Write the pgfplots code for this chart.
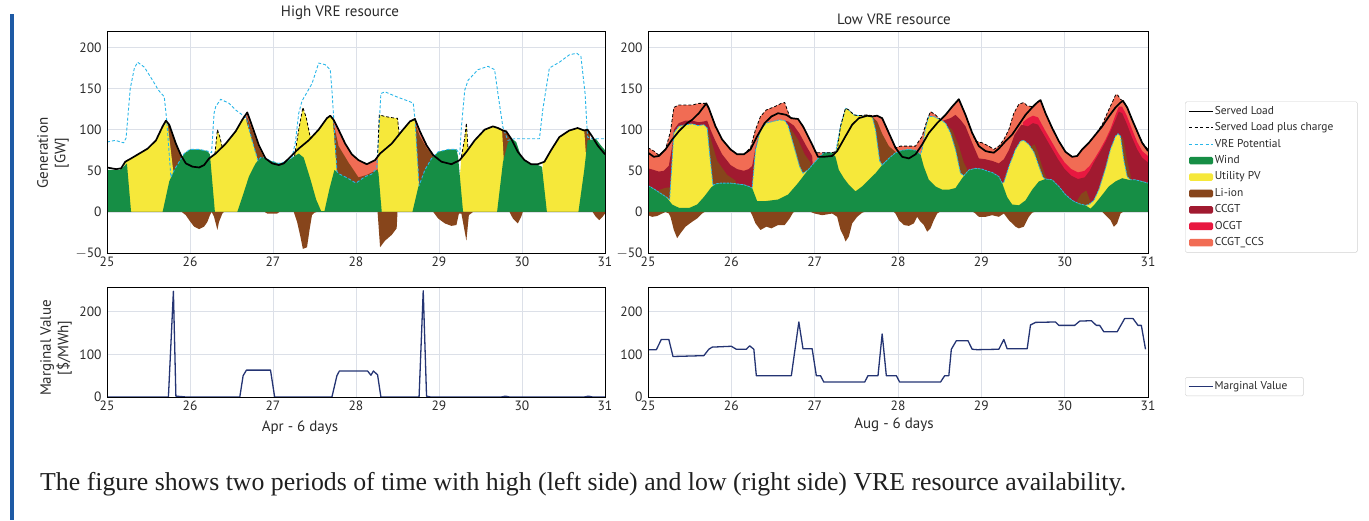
\documentclass[border=0pt]{standalone}
\usepackage{pgfplots}
\pgfplotsset{compat=1.18}
\usepackage{fontspec}
\setmainfont{PT Sans}
\newfontfamily\capfont{Liberation Serif}

\definecolor{wind}{HTML}{168E45}
\definecolor{pv}{HTML}{F6E83A}
\definecolor{liion}{HTML}{87451B}
\definecolor{ccgt}{HTML}{A11A30}
\definecolor{ocgt}{HTML}{E81840}
\definecolor{ccs}{HTML}{F16C54}
\definecolor{vre}{HTML}{29B6E8}
\definecolor{mv}{HTML}{243473}
\definecolor{gridc}{HTML}{DCE0E8}
\definecolor{tickc}{HTML}{2A2A2A}
\definecolor{barblue}{HTML}{1E5AA5}

\newcommand{\tickf}{\fontsize{13.5}{16}\selectfont}
\newcommand{\labf}{\fontsize{15}{17.5}\selectfont}
\newcommand{\legf}{\fontsize{11.4}{13}\selectfont}

\pgfplotsset{
  panel/.style={
    scale only axis, xmin=25, xmax=31, xtick={25,...,31},
    grid=major, grid style={draw=gridc, line width=0.6pt},
    axis line style={line width=0.8pt},
    tick style={draw=none},
    ticklabel style={font=\tickf, text=tickc},
    yticklabel style={xshift=-2pt},
    /pgf/number format/assume math mode=true,
    clip mode=individual,
    every axis plot/.append style={line join=round},
  },
  lineleg/.style={legend image code/.code={\draw[##1] (0pt,0pt) -- (24pt,0pt);}},
  arealeg/.style={legend image code/.code={\path[##1, draw=none] (0pt,-3.8pt) rectangle (24pt,3.8pt);}},
  loadline/.style={black, line width=1.7pt},
  chargeline/.style={black, line width=0.8pt, dash pattern=on 3pt off 2pt},
  vreline/.style={vre, line width=0.9pt, dash pattern=on 3pt off 2pt},
}

\begin{document}
\begin{tikzpicture}
\useasboundingbox (0,0) rectangle (1369pt,-520pt);
\fill[barblue] (10pt,-14pt) rectangle (13.5pt,-520pt);

% ---------------- High VRE resource, generation ----------------
\begin{axis}[panel, at={(107pt,-31pt)}, anchor=north west,
  width=498pt, height=222pt, ymin=-50, ymax=220,
  ytick={-50,0,50,100,150,200}, yticklabels={$-$50,0,50,100,150,200}]
% CCGT_CCS
\addplot[fill=ccs, draw=none, forget plot] coordinates {
(25,0) (26.66,0) (26.68,120) (26.69,121) (26.75,104) (26.83,81) (26.89,68) (26.92,0)
(27.67,0) (27.69,117) (27.73,112) (27.79,100) (27.87,83) (27.95,70) (28.03,63) (28.13,58) (28.23,63) (28.27,68) (28.29,0)
(28.69,0) (28.71,113) (28.77,98) (28.85,81) (28.93,69) (28.95,0) (31,0)} \closedcycle;
% Li-ion discharge
\addplot[fill=liion, draw=none, forget plot] coordinates {
(25,0) (25.69,0) (25.71,111) (25.75,106) (25.83,83) (25.89,69) (25.92,0)
(26.65,0) (26.68,117) (26.75,100) (26.83,78) (26.89,66) (26.92,0)
(27.67,0) (27.7,115) (27.73,108) (27.79,80) (27.91,60) (28.03,42) (28.13,45) (28.23,50) (28.27,52) (28.29,0)
(28.69,0) (28.71,108) (28.77,92) (28.85,78) (28.93,68) (28.96,0)
(29.74,0) (29.76,99) (29.81,98) (29.87,89) (29.89,0)
(30.73,0) (30.75,99) (30.79,100) (30.82,96) (30.85,0) (31,0)} \closedcycle;
% Utility PV (cumulative)
\addplot[fill=pv, draw=none, forget plot] coordinates {
(25,0) (25.18,0) (25.21,60) (25.29,65) (25.39,71) (25.49,77) (25.59,87) (25.67,104) (25.71,111) (25.73,108) (25.8,48) (25.83,0)
(26.21,0) (26.24,66) (26.3,70) (26.33,100) (26.36,91) (26.39,78) (26.43,83) (26.55,98) (26.63,112) (26.67,113) (26.75,86) (26.82,62) (26.85,0)
(27.22,0) (27.26,68) (27.31,100) (27.36,127) (27.4,115) (27.45,92) (27.5,94) (27.55,100) (27.65,114) (27.69,117) (27.72,112) (27.77,48) (27.79,0)
(28.25,0) (28.28,118) (28.35,116) (28.47,114) (28.5,114) (28.52,95) (28.55,98) (28.65,110) (28.71,113) (28.76,32) (28.78,0)
(29.22,0) (29.27,67) (29.31,90) (29.33,108) (29.35,76) (29.43,87) (29.55,100) (29.65,104) (29.71,102) (29.76,99) (29.78,64) (29.8,0)
(30.22,0) (30.25,60) (30.27,61) (30.35,75) (30.45,91) (30.57,99) (30.67,102) (30.75,99) (30.77,70) (30.79,0) (31,0)} \closedcycle;
% Wind
\addplot[fill=wind, draw=none, forget plot] coordinates {
(25,51) (25.15,51) (25.2,55) (25.24,59) (25.29,0) (25.67,0) (25.75,37) (25.81,51) (25.93,71) (26,76) (26.11,76) (26.21,74) (26.24,70) (26.3,0)
(26.57,0) (26.63,18) (26.71,43) (26.79,59) (26.85,66) (26.9,66) (26.97,62) (27.07,59) (27.15,61) (27.23,66) (27.31,71) (27.37,66) (27.45,40) (27.52,15) (27.58,1) (27.62,1) (27.68,28) (27.74,51) (27.8,46) (27.9,41) (28,35) (28.11,43) (28.19,46) (28.25,51) (28.27,48) (28.31,0)
(28.68,0) (28.75,30) (28.83,51) (28.91,65) (28.99,73) (29.11,76) (29.21,76) (29.23,67) (29.29,0)
(29.7,0) (29.77,60) (29.83,84) (29.88,89) (29.93,85) (29.99,67) (30.09,59) (30.19,57) (30.24,55) (30.3,0)
(30.68,0) (30.75,51) (30.79,87) (30.89,89) (30.95,81) (31,75)} \closedcycle;
% Li-ion charge
\addplot[fill=liion, draw=none, forget plot] coordinates {
(25,0) (25.9,0) (25.95,-4) (25.99,-10) (26.05,-18) (26.11,-21) (26.17,-18) (26.21,-12) (26.24,-4) (26.26,0) (26.29,-6) (26.33,-22) (26.35,-12) (26.39,-2) (26.41,0)
(26.9,0) (26.93,-2) (27.05,-2) (27.08,0) (27.25,0) (27.29,-12) (27.33,-30) (27.36,-45) (27.41,-43) (27.44,-22) (27.47,-4) (27.5,-1) (27.53,0)
(28.26,0) (28.29,-43) (28.35,-35) (28.43,-28) (28.49,-20) (28.5,0)
(28.93,0) (28.99,-8) (29.07,-14) (29.15,-17) (29.21,-16) (29.24,-2) (29.27,-2) (29.33,-35) (29.36,-4) (29.41,0)
(29.85,0) (29.89,-8) (29.95,-14) (29.99,-6) (30.01,0) (30.85,0) (30.89,-6) (30.93,-10) (30.97,-6) (31,-2)} \closedcycle;
% VRE potential
\addplot[vreline, forget plot] coordinates {
(25,85) (25.1,87) (25.2,84) (25.23,90) (25.28,150) (25.33,175) (25.37,182) (25.45,176) (25.55,160) (25.62,148) (25.69,140) (25.72,111) (25.77,42) (25.81,51) (25.93,71) (26,76) (26.11,76) (26.21,74) (26.26,72) (26.29,120) (26.31,128) (26.37,137) (26.47,132) (26.55,124) (26.63,118) (26.68,114) (26.75,86) (26.82,62) (26.85,66) (26.9,66) (26.97,62) (27.07,59) (27.15,61) (27.23,66) (27.27,85) (27.31,120) (27.35,135) (27.47,156) (27.55,181) (27.63,179) (27.69,173) (27.71,148) (27.73,116) (27.77,49) (27.8,46) (27.9,41) (28,35) (28.11,43) (28.19,46) (28.25,53) (28.3,144) (28.35,146) (28.49,140) (28.65,134) (28.69,132) (28.71,113) (28.76,32) (28.83,51) (28.91,65) (28.99,73) (29.11,76) (29.21,76) (29.25,70) (29.27,103) (29.31,148) (29.35,160) (29.47,173) (29.59,177) (29.67,173) (29.71,144) (29.77,103) (29.83,87) (29.91,89) (30.21,89) (30.25,124) (30.33,175) (30.45,182) (30.57,191) (30.66,193) (30.71,189) (30.76,144) (30.79,91) (30.85,89) (31,89)};
% Served load plus charge
\addplot[chargeline, unbounded coords=jump, forget plot] coordinates {
(26.3,70) (26.33,100) (26.36,91) (26.39,78) (26.4,nan)
(27.26,68) (27.31,100) (27.36,127) (27.4,115) (27.45,90) (27.46,nan)
(28.26,66) (28.28,118) (28.35,116) (28.47,114) (28.5,114) (28.52,95) (28.53,nan)
(29.27,67) (29.31,90) (29.33,108) (29.35,76)};
% Served load
\addplot[loadline, forget plot] coordinates {
(25,54) (25.11,52) (25.17,53) (25.22,61) (25.29,65) (25.39,71) (25.49,77) (25.59,87) (25.67,104) (25.71,111) (25.75,106) (25.83,83) (25.89,69) (25.95,59) (26.03,55) (26.11,54) (26.17,57) (26.23,65) (26.31,71) (26.43,83) (26.55,98) (26.63,112) (26.69,121) (26.75,104) (26.83,81) (26.91,65) (26.99,59) (27.07,57) (27.13,59) (27.21,67) (27.31,77) (27.43,87) (27.55,100) (27.65,114) (27.69,117) (27.73,112) (27.79,100) (27.87,83) (27.95,70) (28.03,63) (28.13,58) (28.23,63) (28.29,71) (28.43,83) (28.55,98) (28.65,110) (28.71,113) (28.77,98) (28.85,81) (28.93,69) (29.03,61) (29.15,58) (29.25,63) (29.33,73) (29.43,87) (29.55,100) (29.65,104) (29.71,102) (29.77,99) (29.81,98) (29.87,89) (29.95,73) (30.03,63) (30.11,58) (30.19,58) (30.27,61) (30.35,75) (30.45,91) (30.57,99) (30.67,102) (30.75,99) (30.79,100) (30.85,91) (30.91,81) (31,70)};
\draw[line width=0.8pt] (rel axis cs:0,0) rectangle (rel axis cs:1,1);
\end{axis}

% ---------------- Low VRE resource, generation ----------------
\begin{axis}[panel, at={(648pt,-31pt)}, anchor=north west,
  width=500pt, height=222pt, ymin=-50, ymax=220,
  ytick={-50,0,50,100,150,200}, yticklabels={$-$50,0,50,100,150,200},
  legend style={at={(axis description cs:1.074,0.682)}, anchor=north west,
    draw=black!18, rounded corners=1.5pt, font=\legf, text=tickc,
    inner xsep=3pt, inner ysep=3.5pt, row sep=4pt,
    nodes={inner sep=1pt, text height=8pt, text depth=2.4pt},
    /tikz/every even column/.append style={column sep=6pt}},
  legend cell align=left]
\addlegendimage{lineleg, black, line width=1.6pt}\addlegendentry{Served Load}
\addlegendimage{lineleg, black, line width=0.8pt, dash pattern=on 3pt off 2.5pt}\addlegendentry{Served Load plus charge\hspace*{20pt}}
\addlegendimage{lineleg, vre, line width=0.9pt, dash pattern=on 3pt off 2.5pt}\addlegendentry{VRE Potential}
\addlegendimage{arealeg, fill=wind}\addlegendentry{Wind}
\addlegendimage{arealeg, fill=pv}\addlegendentry{Utility PV}
\addlegendimage{arealeg, fill=liion}\addlegendentry{Li-ion}
\addlegendimage{arealeg, fill=ccgt}\addlegendentry{CCGT}
\addlegendimage{arealeg, fill=ocgt}\addlegendentry{OCGT}
\addlegendimage{arealeg, fill=ccs}\addlegendentry{CCGT\_CCS}
% total generation (top of CCGT_CCS)
\addplot[fill=ccs, draw=none, forget plot] coordinates {
(25,78) (25.07,74) (25.13,69) (25.21,76) (25.27,98) (25.31,127) (25.37,130) (25.53,130) (25.61,132) (25.7,132) (25.73,126) (25.81,104) (25.89,88) (25.99,76) (26.07,70) (26.15,70) (26.23,78) (26.29,100) (26.35,116) (26.42,124) (26.52,128) (26.6,132) (26.64,133) (26.7,116) (26.72,114) (26.8,113) (26.86,104) (26.96,84) (27.01,72) (27.09,72) (27.21,72) (27.27,74) (27.31,104) (27.37,126) (27.41,124) (27.47,118) (27.53,117) (27.63,118) (27.69,117) (27.75,117) (27.81,114) (27.89,96) (27.97,78) (28.03,80) (28.13,80) (28.21,80) (28.29,92) (28.35,112) (28.39,122) (28.45,118) (28.51,112) (28.57,118) (28.65,128) (28.73,137) (28.81,118) (28.89,96) (28.93,86) (29.01,84) (29.09,80) (29.15,76) (29.21,80) (29.27,88) (29.33,100) (29.39,120) (29.45,131) (29.51,133) (29.55,129) (29.61,128) (29.67,133) (29.71,136) (29.77,120) (29.85,102) (29.93,86) (30.01,73) (30.09,67) (30.15,68) (30.21,76) (30.29,84) (30.37,94) (30.45,106) (30.51,120) (30.57,133) (30.61,142) (30.63,143) (30.67,137) (30.7,135) (30.75,127) (30.81,112) (30.87,98) (30.93,84) (31,76)} \closedcycle;
% OCGT
\addplot[fill=ocgt, draw=none, forget plot] coordinates {
(29.48,0) (29.5,109) (29.56,114) (29.62,117) (29.68,115) (29.76,100) (29.84,86) (29.92,72) (30,60) (30.08,52) (30.16,48) (30.24,50) (30.3,56) (30.36,65) (30.42,75) (30.49,88) (30.55,101) (30.61,118) (30.65,128) (30.69,128) (30.75,116) (30.81,100) (30.87,85) (30.93,74) (31,68)} \closedcycle;
% CCGT
\addplot[fill=ccgt, draw=none, forget plot] coordinates {
(25,53) (25.07,51) (25.13,49) (25.19,50) (25.25,56) (25.29,80) (25.31,100) (25.37,108) (25.45,111) (25.53,111) (25.61,109) (25.67,110) (25.71,111) (25.75,100) (25.81,86) (25.89,70) (25.99,57) (26.07,52) (26.15,50) (26.21,52) (26.25,56) (26.29,78) (26.35,100) (26.42,108) (26.5,110) (26.58,112) (26.64,111) (26.68,110) (26.75,105) (26.82,95) (26.9,80) (26.97,68) (27.01,0)
(28.5,0) (28.52,110) (28.57,112) (28.63,114) (28.69,118) (28.75,112) (28.81,104) (28.89,84) (28.97,65) (29.05,64) (29.13,62) (29.21,59) (29.27,64) (29.33,75) (29.4,94) (29.48,106) (29.56,104) (29.62,108) (29.68,106) (29.76,92) (29.84,78) (29.92,64) (30,52) (30.08,44) (30.16,40) (30.24,42) (30.3,50) (30.36,62) (30.42,72) (30.49,85) (30.55,98) (30.61,112) (30.65,122) (30.69,120) (30.75,106) (30.81,90) (30.87,76) (30.93,66) (31,60)} \closedcycle;
% Li-ion discharge
\addplot[fill=liion, draw=none, forget plot] coordinates {
(25.1,0) (25.12,26) (25.2,29) (25.26,30) (25.29,0) (25.7,0) (25.71,104) (25.75,90) (25.83,62) (25.95,45) (26.05,38) (26.1,0)
(26.64,0) (26.66,108) (26.72,100) (26.8,88) (26.88,70) (26.95,60) (27,0)
(27.67,0) (27.69,116) (27.75,110) (27.81,95) (27.89,80) (27.97,73) (28,0)
(28.58,0) (28.6,104) (28.65,100) (28.73,80) (28.79,60) (28.83,52) (28.86,0)
(29.58,0) (29.6,80) (29.64,82) (29.68,72) (29.72,58) (29.76,46) (29.79,40) (29.82,0)
(30.13,0) (30.15,14) (30.2,22) (30.26,26) (30.3,15) (30.33,0)
(30.66,0) (30.68,94) (30.71,85) (30.75,62) (30.79,45) (30.83,0)} \closedcycle;
% Utility PV (cumulative, = VRE potential)
\addplot[fill=pv, draw=none, forget plot] coordinates {
(25,32) (25.07,28) (25.13,24) (25.22,18) (25.26,15) (25.31,96) (25.37,104) (25.45,106) (25.53,107) (25.6,105) (25.67,106) (25.71,102) (25.74,70) (25.78,32) (25.81,34) (25.87,35) (25.99,35) (26.15,33) (26.21,31) (26.25,29) (26.29,75) (26.35,100) (26.42,108) (26.5,110) (26.58,112) (26.64,111) (26.68,105) (26.75,80) (26.82,55) (26.86,47) (26.92,51) (27.04,65) (27.11,72) (27.21,72) (27.25,72) (27.31,104) (27.37,126) (27.41,124) (27.47,118) (27.53,117) (27.63,117) (27.69,116) (27.73,100) (27.78,62) (27.81,57) (27.89,65) (27.97,72) (28.05,75) (28.13,76) (28.21,75) (28.27,70) (28.29,76) (28.33,102) (28.37,116) (28.43,116) (28.51,112) (28.57,108) (28.63,96) (28.69,76) (28.75,47) (28.79,44) (28.85,51) (28.93,53) (29.01,52) (29.09,49) (29.13,48) (29.21,43) (29.25,35) (29.27,36) (29.33,55) (29.41,76) (29.47,86) (29.51,87) (29.57,82) (29.63,73) (29.69,56) (29.74,42) (29.77,40) (29.85,39) (29.93,31) (30.01,21) (30.09,14) (30.17,10) (30.25,8) (30.29,9) (30.35,14) (30.41,27) (30.49,53) (30.55,76) (30.61,92) (30.64,95) (30.67,92) (30.71,63) (30.75,43) (30.79,39) (30.85,39) (30.93,37) (31,35)} \closedcycle;
% Wind
\addplot[fill=wind, draw=none, forget plot] coordinates {
(25,32) (25.07,28) (25.13,24) (25.22,18) (25.29,9) (25.37,5) (25.5,5) (25.59,9) (25.67,18) (25.76,30) (25.81,34) (25.87,35) (25.99,35) (26.15,33) (26.21,31) (26.25,29) (26.31,13) (26.4,13) (26.56,15) (26.68,21) (26.8,35) (26.92,51) (27.04,65) (27.11,72) (27.21,72) (27.25,67) (27.29,51) (27.35,41) (27.41,33) (27.49,25) (27.57,31) (27.65,39) (27.73,47) (27.81,57) (27.89,65) (27.97,72) (28.05,75) (28.13,76) (28.21,75) (28.27,70) (28.31,55) (28.37,39) (28.45,31) (28.53,27) (28.61,27) (28.69,29) (28.77,41) (28.85,51) (28.93,53) (29.01,52) (29.09,49) (29.13,48) (29.21,43) (29.25,35) (29.31,18) (29.37,9) (29.45,8) (29.53,14) (29.61,27) (29.69,37) (29.77,40) (29.85,39) (29.93,31) (30.01,21) (30.09,14) (30.17,10) (30.25,8) (30.31,4) (30.35,8) (30.43,18) (30.53,31) (30.61,37) (30.69,41) (30.77,39) (30.85,39) (30.93,37) (31,35)} \closedcycle;
% Li-ion charge
\addplot[fill=liion, draw=none, forget plot] coordinates {
(25,-4) (25.05,-6) (25.11,-5) (25.17,-2) (25.21,0) (25.25,-2) (25.27,-6) (25.31,-22) (25.35,-32) (25.39,-26) (25.45,-18) (25.53,-12) (25.59,-8) (25.65,-2) (25.68,0)
(26.23,0) (26.25,-4) (26.29,-14) (26.35,-22) (26.42,-18) (26.48,-20) (26.56,-16) (26.64,-16) (26.7,-8) (26.74,-1) (26.76,0)
(26.95,0) (27,-2) (27.09,-4) (27.21,-2) (27.27,-6) (27.31,-22) (27.35,-30) (27.37,-36) (27.41,-30) (27.45,-14) (27.51,-6) (27.57,-1) (27.6,0)
(27.95,0) (27.97,-2) (28.01,-10) (28.07,-16) (28.13,-17) (28.19,-14) (28.23,-6) (28.27,-12) (28.31,-16) (28.35,-24) (28.39,-20) (28.43,-10) (28.47,-2) (28.5,0)
(28.9,0) (28.93,-2) (28.97,-6) (29.05,-6) (29.09,-5) (29.13,-4) (29.21,-6) (29.27,-2) (29.33,-10) (29.41,-18) (29.45,-20) (29.51,-18) (29.57,-6) (29.61,-1) (29.64,0)
(30.45,0) (30.49,-4) (30.55,-10) (30.59,-18) (30.63,-14) (30.67,-2) (30.7,0) (31,0)} \closedcycle;
% VRE potential
\addplot[vre, line width=0.8pt, dash pattern=on 2.5pt off 1pt, forget plot] coordinates {
(25,32) (25.07,28) (25.13,24) (25.22,18) (25.26,15) (25.31,96) (25.37,104) (25.45,106) (25.53,107) (25.6,105) (25.67,106) (25.71,102) (25.74,70) (25.78,32) (25.81,34) (25.87,35) (25.99,35) (26.15,33) (26.21,31) (26.25,29) (26.29,75) (26.35,100) (26.42,108) (26.5,110) (26.58,112) (26.64,111) (26.68,105) (26.75,80) (26.82,55) (26.86,47) (26.92,51) (27.04,65) (27.11,72) (27.21,72) (27.25,72) (27.31,104) (27.37,126) (27.41,124) (27.47,118) (27.53,117) (27.63,117) (27.69,116) (27.73,100) (27.78,62) (27.81,57) (27.89,65) (27.97,72) (28.05,75) (28.13,76) (28.21,75) (28.27,70) (28.29,76) (28.33,102) (28.37,116) (28.43,116) (28.51,112) (28.57,108) (28.63,96) (28.69,76) (28.75,47) (28.79,44) (28.85,51) (28.93,53) (29.01,52) (29.09,49) (29.13,48) (29.21,43) (29.25,35) (29.27,36) (29.33,55) (29.41,76) (29.47,86) (29.51,87) (29.57,82) (29.63,73) (29.69,56) (29.74,42) (29.77,40) (29.85,39) (29.93,31) (30.01,21) (30.09,14) (30.17,10) (30.25,8) (30.29,9) (30.35,14) (30.41,27) (30.49,53) (30.55,76) (30.61,92) (30.64,95) (30.67,92) (30.71,63) (30.75,43) (30.79,39) (30.85,39) (30.93,37) (31,35)};
% Served load plus charge
\addplot[chargeline, forget plot] coordinates {
(25,78) (25.07,74) (25.13,69) (25.21,76) (25.27,98) (25.31,127) (25.37,130) (25.53,130) (25.61,132) (25.7,132) (25.73,126) (25.81,104) (25.89,88) (25.99,76) (26.07,70) (26.15,70) (26.23,78) (26.29,100) (26.35,116) (26.42,124) (26.52,128) (26.6,132) (26.64,133) (26.7,116) (26.72,114) (26.8,113) (26.86,104) (26.96,84) (27.01,72) (27.09,72) (27.21,72) (27.27,74) (27.31,104) (27.37,126) (27.41,124) (27.47,118) (27.53,117) (27.63,118) (27.69,117) (27.75,117) (27.81,114) (27.89,96) (27.97,78) (28.03,80) (28.13,80) (28.21,80) (28.29,92) (28.35,112) (28.39,122) (28.45,118) (28.51,112) (28.57,118) (28.65,128) (28.73,137) (28.81,118) (28.89,96) (28.93,86) (29.01,84) (29.09,80) (29.15,76) (29.21,80) (29.27,88) (29.33,100) (29.39,120) (29.45,131) (29.51,133) (29.55,129) (29.61,128) (29.67,133) (29.71,136) (29.77,120) (29.85,102) (29.93,86) (30.01,73) (30.09,67) (30.15,68) (30.21,76) (30.29,84) (30.37,94) (30.45,106) (30.51,120) (30.57,133) (30.61,142) (30.63,143) (30.67,137) (30.7,135) (30.75,127) (30.81,112) (30.87,98) (30.93,84) (31,76)};
% Served load
\addplot[loadline, forget plot] coordinates {
(25,72) (25.07,67) (25.13,68) (25.21,76) (25.29,88) (25.37,98) (25.47,108) (25.53,112) (25.61,120) (25.67,128) (25.7,132) (25.73,126) (25.81,104) (25.89,88) (25.99,76) (26.07,70) (26.15,70) (26.23,76) (26.31,92) (26.4,108) (26.48,116) (26.56,120) (26.66,118) (26.72,114) (26.8,113) (26.86,104) (26.96,84) (27.04,67) (27.11,67) (27.21,68) (27.27,74) (27.37,92) (27.45,106) (27.53,114) (27.63,117) (27.69,116) (27.75,117) (27.81,114) (27.89,96) (27.97,78) (28.05,67) (28.13,65) (28.21,70) (28.29,82) (28.37,96) (28.47,108) (28.57,118) (28.65,128) (28.73,137) (28.81,118) (28.89,96) (28.97,80) (29.05,74) (29.09,73) (29.15,72) (29.21,77) (29.29,86) (29.37,94) (29.45,106) (29.53,118) (29.61,127) (29.67,133) (29.71,136) (29.77,120) (29.85,102) (29.93,86) (30.01,73) (30.09,67) (30.15,68) (30.21,76) (30.29,84) (30.37,94) (30.45,104) (30.53,116) (30.61,127) (30.67,133) (30.7,135) (30.75,127) (30.81,112) (30.87,98) (30.93,84) (31,74)};
\draw[line width=0.8pt] (rel axis cs:0,0) rectangle (rel axis cs:1,1);
\end{axis}

% ---------------- Marginal value, April ----------------
\begin{axis}[panel, at={(107pt,-287pt)}, anchor=north west,
  width=498pt, height=110pt, ymin=0, ymax=258, ytick={0,100,200}]
\addplot[mv, line width=1.3pt, forget plot] coordinates {
(25,0) (25.74,0) (25.8,248) (25.83,2) (25.9,1) (25.95,0) (26.6,0) (26.64,50) (26.68,63) (26.97,63) (27.02,0) (27.71,0) (27.77,50) (27.8,61) (28.14,61) (28.18,51) (28.21,61) (28.26,52) (28.3,0) (28.76,0) (28.81,249) (28.85,2) (28.9,0) (29.75,0) (29.8,2) (29.85,0) (30.75,0) (30.8,2) (30.85,0) (31,0)};
\draw[line width=0.8pt] (rel axis cs:0,0) rectangle (rel axis cs:1,1);
\end{axis}

% ---------------- Marginal value, August ----------------
\begin{axis}[panel, at={(648pt,-287pt)}, anchor=north west,
  width=500pt, height=110pt, ymin=0, ymax=258, ytick={0,100,200},
  legend style={at={(axis description cs:1.074,0.18)}, anchor=north west,
    draw=black!18, rounded corners=1.5pt, font=\legf, text=tickc,
    inner xsep=3pt, inner ysep=3pt,
    nodes={inner sep=1pt, text height=8pt, text depth=2.4pt},
    /tikz/every even column/.append style={column sep=6pt}},
  legend cell align=left]
\addlegendimage{lineleg, mv, line width=1.4pt}\addlegendentry{Marginal Value\hspace*{12pt}}
\addplot[mv, line width=1.3pt, forget plot] coordinates {
(25,111) (25.1,111) (25.16,135) (25.25,135) (25.3,95) (25.67,97) (25.73,112) (25.77,117) (26,119) (26.06,112) (26.18,112) (26.22,120) (26.27,112) (26.3,50) (26.72,50) (26.81,176) (26.86,113) (26.97,113) (27.02,50) (27.07,50) (27.11,35) (27.6,35) (27.64,50) (27.76,50) (27.81,148) (27.86,50) (27.98,50) (28.02,35) (28.51,35) (28.56,50) (28.61,50) (28.64,112) (28.7,132) (28.84,132) (28.89,112) (28.95,111) (29.21,112) (29.27,135) (29.31,113) (29.55,113) (29.59,169) (29.65,175) (29.89,176) (29.93,168) (30.12,168) (30.18,178) (30.32,179) (30.38,168) (30.42,168) (30.47,153) (30.63,153) (30.72,184) (30.82,184) (30.88,168) (30.92,168) (30.97,112)};
\draw[line width=0.8pt] (rel axis cs:0,0) rectangle (rel axis cs:1,1);
\end{axis}

% ---------------- titles and labels ----------------
\node[font=\labf, text=tickc] at (340pt,-13pt) {High VRE resource};
\node[font=\labf, text=tickc] at (894pt,-19pt) {Low VRE resource};
\node[font=\labf, text=tickc, rotate=90, align=center] at (53pt,-153pt) {Generation\\{[GW]}};
\node[font=\labf, text=tickc, rotate=90, align=center] at (56pt,-348pt) {Marginal Value\\{[\$/MWh]}};
\node[font=\labf, text=tickc] at (300pt,-428pt) {Apr - 6 days};
\node[font=\labf, text=tickc] at (894pt,-425pt) {Aug - 6 days};
\node[anchor=base west, inner sep=0pt, font=\capfont\fontsize{25.8}{30}\selectfont, text=black!88]
  at (40pt,-490pt) {The figure shows two periods of time with high (left side) and low (right side) VRE resource availability.};
\end{tikzpicture}
\end{document}
